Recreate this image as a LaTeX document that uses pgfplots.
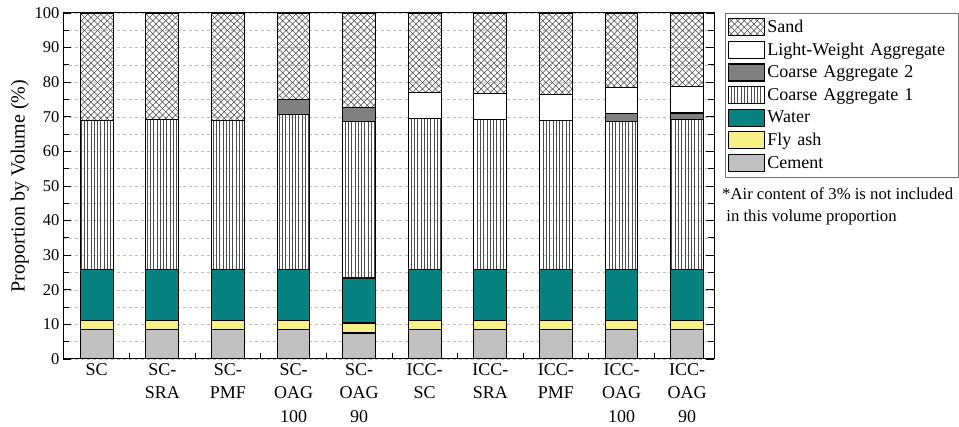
\documentclass[border=0pt]{standalone}
\usepackage{fontspec}
\setmainfont{Liberation Serif}
\usepackage{pgfplots}
\pgfplotsset{compat=1.18}
\usepackage{pgfplotstable}
\usetikzlibrary{patterns}
\definecolor{cementc}{RGB}{192,192,192}
\definecolor{flyc}{RGB}{247,240,135}
\definecolor{waterc}{RGB}{8,130,128}
\definecolor{ca2c}{RGB}{128,128,128}
\pgfdeclarepatternformonly{mydiagcross}{\pgfqpoint{-1pt}{-1pt}}{\pgfqpoint{7.5pt}{7.5pt}}{\pgfqpoint{6.5pt}{6.5pt}}{%
  \pgfsetlinewidth{0.55pt}%
  \pgfpathmoveto{\pgfqpoint{-0.1pt}{-0.1pt}}\pgfpathlineto{\pgfqpoint{6.6pt}{6.6pt}}%
  \pgfpathmoveto{\pgfqpoint{-0.1pt}{6.6pt}}\pgfpathlineto{\pgfqpoint{6.6pt}{-0.1pt}}%
  \pgfusepath{stroke}}
\pgfdeclarepatternformonly{myvlines}{\pgfqpoint{-1pt}{-1pt}}{\pgfqpoint{4.3pt}{4.3pt}}{\pgfqpoint{3.3pt}{3.3pt}}{%
  \pgfsetlinewidth{0.5pt}%
  \pgfpathmoveto{\pgfqpoint{1.65pt}{-0.5pt}}\pgfpathlineto{\pgfqpoint{1.65pt}{3.8pt}}%
  \pgfusepath{stroke}}
\pgfplotsset{layers/mylayers/.define layer set={axis background,axis grid,main,axis ticks,axis lines,axis tick labels,axis descriptions,axis foreground}{}}
\pgfplotstableread{
x cement fly water caone catwo lwa sand
1 8.5 2.7 14.6 43.1 0 0 31.1
2 8.5 2.7 14.6 43.4 0 0 30.8
3 8.5 2.7 14.6 43.1 0 0 31.1
4 8.5 2.7 14.6 44.8 4.4 0 25.0
5 7.5 2.9 13.0 45.3 4.1 0 27.2
6 8.5 2.7 14.6 43.7 0 7.4 23.1
7 8.5 2.7 14.6 43.4 0 7.5 23.3
8 8.5 2.7 14.6 43.2 0 7.5 23.5
9 8.5 2.7 14.6 42.9 2.2 7.6 21.5
10 8.5 2.7 14.6 43.4 1.9 7.7 21.2
}\datatable
\begin{document}
\begin{tikzpicture}
\begin{axis}[
  set layers=mylayers,
  scale only axis,
  width=651pt, height=346pt,
  ybar stacked,
  bar width=0.5,
  xmin=0.486, xmax=10.41,
  ymin=0, ymax=100,
  xtick={1,...,10},
  minor xtick={1.5,2.5,...,9.5},
  xticklabels={SC,{SC-\\SRA},{SC-\\PMF},{SC-\\OAG\\100},{SC-\\OAG\\90},{ICC-\\SC},{ICC-\\SRA},{ICC-\\PMF},{ICC-\\OAG\\100},{ICC-\\OAG\\90}},
  xticklabel style={align=center, font=\fontsize{18}{23.5}\selectfont, yshift=-1pt},
  xtick pos=bottom,
  ytick={0,10,...,100},
  minor ytick={5,15,...,95},
  ytick pos=both,
  yticklabel style={font=\fontsize{16.5}{18}\selectfont},
  /pgf/number format/assume math mode=true,
  tick align=inside,
  major tick length=8pt,
  minor tick length=6pt,
  tick style={black, line width=0.8pt},
  axis line style={black, line width=1pt},
  ymajorgrids, yminorgrids,
  major grid style={dashed, gray!50, line width=0.5pt},
  minor grid style={dashed, gray!50, line width=0.5pt},
  ylabel={Proportion by Volume (\%)},
  ylabel style={font=\fontsize{20}{22}\selectfont, yshift=-1pt},
  every axis plot/.append style={draw=black, line width=1.1pt},
  legend image code/.code={\draw[#1, line width=1.1pt] (0pt,-8.5pt) rectangle (36pt,8.5pt);},
  reverse legend,
  legend cell align=left,
  legend style={at={(axis description cs:1.017,1)}, anchor=north west,
    draw=black!55, line width=0.6pt, font=\fontsize{18}{19}\selectfont,
    row sep=4.5pt, inner xsep=3pt, inner ysep=5pt, text width=186pt},
]
\addplot[fill=cementc] table[x=x,y=cement]{\datatable};
\addplot[fill=flyc] table[x=x,y=fly]{\datatable};
\addplot[fill=waterc] table[x=x,y=water]{\datatable};
\addplot[pattern=myvlines, pattern color=black!70] table[x=x,y=caone]{\datatable};
\addplot[fill=ca2c] table[x=x,y=catwo]{\datatable};
\addplot[fill=white] table[x=x,y=lwa]{\datatable};
\addplot[pattern=mydiagcross, pattern color=black!70] table[x=x,y=sand]{\datatable};
\legend{Cement,Fly ash,Water,Coarse Aggregate 1,Coarse Aggregate 2,Light-Weight Aggregate,Sand}
\end{axis}
\node[anchor=north west, align=left, font=\fontsize{16.7}{22}\selectfont, inner sep=0pt] at (659pt,171pt) {*Air content of 3\% is not included\\\ in this volume proportion};
\path (-63pt,-68pt) rectangle (896pt,359pt);
\end{tikzpicture}
\end{document}
